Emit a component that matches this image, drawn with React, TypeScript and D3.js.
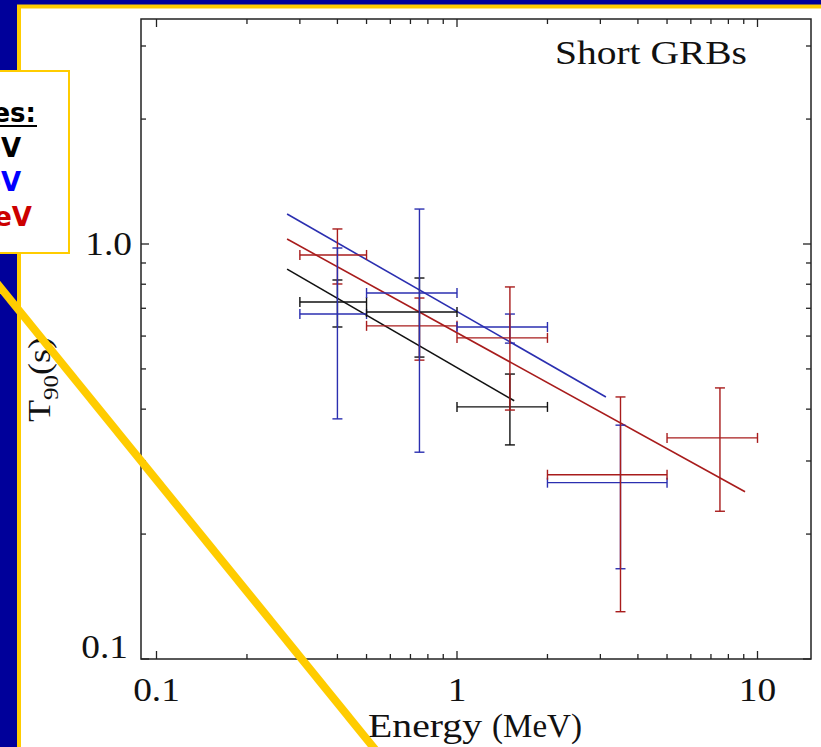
import React from 'react';
import * as d3 from 'd3';

const W = 821;
const H = 747;

// Energy bins (MeV)
const binLo = [0.3, 0.5, 1, 2, 5];
const binHi = [0.5, 1, 2, 5, 10];
const binMid = [0.4, 0.75, 1.5, 3.5, 7.5];

// T90 (s) per series with lower / upper error limits
const blackT90 = [0.725, 0.686, 0.405];
const blackLo = [0.631, 0.534, 0.328];
const blackHi = [0.819, 0.828, 0.486];

const blueT90 = [0.678, 0.762, 0.631, 0.266];
const blueLo = [0.379, 0.315, 0.577, 0.165];
const blueHi = [0.978, 1.214, 0.678, 0.366];

const redT90 = [0.941, 0.635, 0.594, 0.278, 0.341];
const redLo = [0.801, 0.525, 0.398, 0.13, 0.227];
const redHi = [1.087, 0.741, 0.788, 0.428, 0.45];

// Power-law fit segments: [E start, E end] and [T90 start, T90 end]
const blackFitE = [0.272, 1.55];
const blackFitT = [0.87, 0.419];
const blueFitE = [0.272, 3.13];
const blueFitT = [1.181, 0.428];
const redFitE = [0.272, 9.09];
const redFitT = [1.028, 0.253];

const xTickValues = [0.1, 1, 10];
const xTickLabels = ['0.1', '1', '10'];
const yTickValues = [0.1, 1];
const yTickLabels = ['0.1', '1.0'];

const legendLines = ['Energy ranges:', '> 20 keV', '> 50 keV', '> 100 keV'];
const legendColors = ['#000000', '#000000', '#0000ff', '#cc0000'];

const C_BLACK = '#111111';
const C_BLUE = '#2b2fb0';
const C_RED = '#a81c1c';
const SLIDE_BLUE = '#00009a';
const SLIDE_YELLOW = '#ffcc00';

const SERIF = '"Liberation Serif", "Times New Roman", serif';

const left = 141;
const right = 811;
const top = 19;
const bottom = 659;

const x = d3
  .scaleLog()
  .domain([Math.pow(10, -316 / 300.5), Math.pow(10, 354 / 300.5)])
  .range([left, right]);
const y = d3
  .scaleLog()
  .domain([0.1, Math.pow(10, 225 / 415)])
  .range([bottom, top]);

type Series = { v: number[]; lo: number[]; hi: number[]; color: string };

const black: Series = { v: blackT90, lo: blackLo, hi: blackHi, color: C_BLACK };
const red: Series = { v: redT90, lo: redLo, hi: redHi, color: C_RED };
const blue: Series = { v: blueT90, lo: blueLo, hi: blueHi, color: C_BLUE };

const fits = [
  { e: blackFitE, t: blackFitT, color: C_BLACK },
  { e: blueFitE, t: blueFitT, color: C_BLUE },
  { e: redFitE, t: redFitT, color: C_RED },
];

function ErrorBar({ s, i }: { s: Series; i: number }) {
  if (i >= s.v.length) return null;
  const cap = 5;
  const x0 = x(binLo[i]);
  const x1 = x(binHi[i]);
  const xm = x(binMid[i]);
  const yv = y(s.v[i]);
  const ylo = y(s.lo[i]);
  const yhi = y(s.hi[i]);
  return (
    <g stroke={s.color} strokeWidth={1.4} fill="none">
      <line x1={x0} x2={x1} y1={yv} y2={yv} />
      <line x1={x0} x2={x0} y1={yv - cap} y2={yv + cap} />
      <line x1={x1} x2={x1} y1={yv - cap} y2={yv + cap} />
      <line x1={xm} x2={xm} y1={yhi} y2={ylo} />
      <line x1={xm - cap} x2={xm + cap} y1={yhi} y2={yhi} />
      <line x1={xm - cap} x2={xm + cap} y1={ylo} y2={ylo} />
    </g>
  );
}

export default function App() {
  const line = d3
    .line<[number, number]>()
    .x((d) => x(d[0]))
    .y((d) => y(d[1]));

  const xAll = x.ticks().filter((t) => t >= 0.1 - 1e-9 && t <= 10 + 1e-9);
  const yAll = y.ticks().filter((t) => t >= 0.1 - 1e-9);
  const isMajor = (t: number, majors: number[]) => majors.some((m) => Math.abs(m - t) < 1e-9);

  const legendEnds = [36, 21, 21, 32];
  const legendBase = [122, 157, 191, 226];

  // in the low-energy bins the blue bars sit on top, at higher energies the red ones do
  const stackFor = (i: number) => (i < 2 ? [black, red, blue] : [black, blue, red]);

  return (
    <svg
      width={W}
      height={H}
      style={{ position: 'absolute', left: 0, top: 0, display: 'block' }}
    >
      {/* slide background and frame */}
      <rect x={0} y={0} width={W} height={H} fill={SLIDE_BLUE} />
      <rect x={17} y={4.5} width={W - 17} height={H} fill={SLIDE_YELLOW} />
      <rect x={21} y={8.5} width={W - 21} height={H} fill="#ffffff" />

      {/* fit lines */}
      {fits.map((f, i) => (
        <path
          key={i}
          d={line([
            [f.e[0], f.t[0]],
            [f.e[1], f.t[1]],
          ]) as string}
          stroke={f.color}
          strokeWidth={1.6}
          fill="none"
        />
      ))}

      {/* error bars */}
      {binMid.map((_, i) => (
        <g key={i}>
          {stackFor(i).map((s, k) => (
            <ErrorBar key={k} s={s} i={i} />
          ))}
        </g>
      ))}

      {/* plot frame */}
      <rect
        x={left}
        y={top}
        width={right - left}
        height={bottom - top}
        fill="none"
        stroke="#222"
        strokeWidth={1.5}
      />

      {/* ticks on all four sides */}
      <g stroke="#222" strokeWidth={1.3}>
        {xAll.map((t, i) => {
          const len = isMajor(t, xTickValues) ? 8 : 5;
          const xp = x(t);
          return (
            <g key={i}>
              <line x1={xp} x2={xp} y1={bottom} y2={bottom - len} />
              <line x1={xp} x2={xp} y1={top} y2={top + len} />
            </g>
          );
        })}
        {yAll.map((t, i) => {
          const len = isMajor(t, yTickValues) ? 8 : 5;
          const yp = y(t);
          return (
            <g key={i}>
              <line x1={left} x2={left + len} y1={yp} y2={yp} />
              <line x1={right} x2={right - len} y1={yp} y2={yp} />
            </g>
          );
        })}
      </g>

      {/* tick labels */}
      <g fontFamily={SERIF} fontSize={34} fill="#111">
        {xTickValues.map((t, i) => (
          <g key={i} transform={`translate(${x(t)},701) scale(1.1,1)`}>
            <text textAnchor="middle">{xTickLabels[i]}</text>
          </g>
        ))}
        {yTickValues.map((t, i) => (
          <g
            key={i}
            transform={`translate(${t < 0.5 ? 128 : 132},${Math.min(y(t) + 11, 658)}) scale(1.1,1)`}
          >
            <text textAnchor="end">{yTickLabels[i]}</text>
          </g>
        ))}
      </g>

      {/* axis titles */}
      <g fontFamily={SERIF} fontSize={33} fill="#111">
        <text x={368} y={737} textLength={114} lengthAdjust="spacingAndGlyphs">
          Energy
        </text>
        <text x={492} y={737} textLength={90} lengthAdjust="spacingAndGlyphs">
          (MeV)
        </text>
      </g>
      <text
        transform="translate(50,422) rotate(-90)"
        fontFamily={SERIF}
        fontSize={32}
        fill="#111"
        textLength={85}
        lengthAdjust="spacingAndGlyphs"
      >
        T
        <tspan fontSize={22} dy={8}>
          90
        </tspan>
        <tspan dy={-8}>(s)</tspan>
      </text>
      <text
        x={555}
        y={64}
        fontFamily={SERIF}
        fontSize={33}
        fill="#111"
        textLength={192}
        lengthAdjust="spacingAndGlyphs"
      >
        Short GRBs
      </text>

      {/* legend box, running off the left edge of the slide */}
      <rect x={-10} y={71} width={79} height={182} fill="#ffffff" stroke={SLIDE_YELLOW} strokeWidth={2} />
      <g fontFamily='"DejaVu Sans", Verdana, sans-serif' fontWeight="bold" fontSize={26}>
        {legendLines.map((t, i) => (
          <text key={i} x={legendEnds[i]} y={legendBase[i]} textAnchor="end" fill={legendColors[i]}>
            {t}
          </text>
        ))}
      </g>
      <line x1={-200} x2={37} y1={126} y2={126} stroke="#000" strokeWidth={2} />

      {/* yellow pointer stroke */}
      <line x1={-20} y1={287 - 20 * 1.233} x2={400} y2={287 + 400 * 1.233} stroke={SLIDE_YELLOW} strokeWidth={8} />
    </svg>
  );
}
